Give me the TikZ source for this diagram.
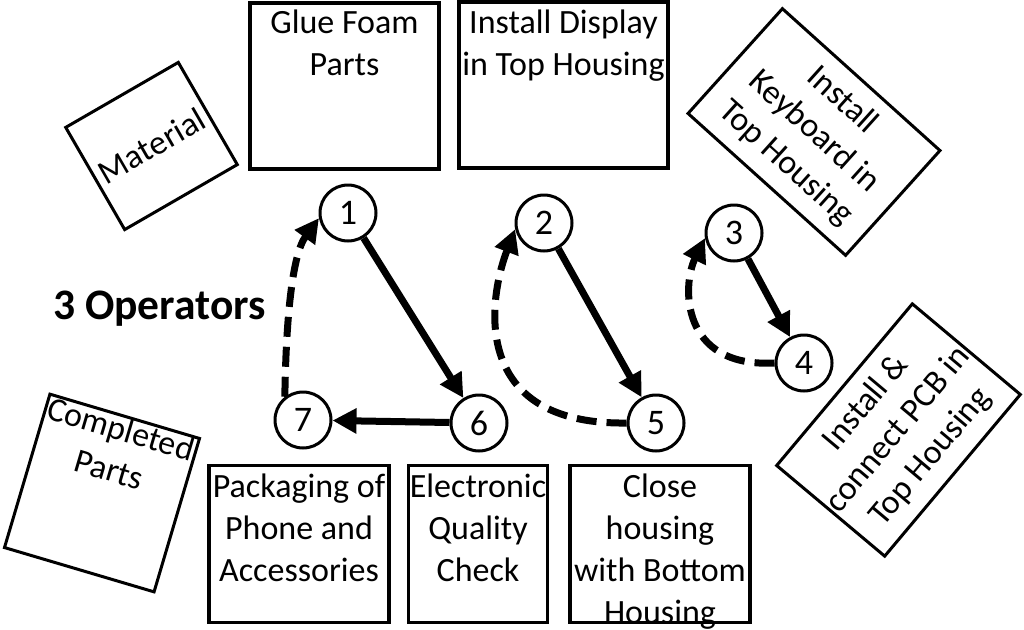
\documentclass[tikz,border=0pt]{standalone}
\usepackage{fontspec}
\setmainfont{Carlito}
\usetikzlibrary{arrows.meta}
\newcommand\fstrut{\rule{0pt}{26pt}}
\begin{document}
\begin{tikzpicture}[x=1pt,y=1pt,
 procbox/.style={draw, line width=3.5pt, inner sep=0pt},
 rotbox/.style={draw, line width=3pt, inner sep=0pt, align=center, font=\fontsize{34}{42}\selectfont},
 txt/.style={inner sep=0pt, align=center, font=\fontsize{34}{42}\selectfont},
 circ/.style={circle, draw, line width=3pt, minimum size=56pt, inner sep=0pt, font=\fontsize{36}{40}\selectfont},
 solidarr/.style={line width=7pt, -{Triangle[length=24pt,width=24pt]}},
 dasharr/.style={solidarr, dash pattern=on 20pt off 10pt}]
\useasboundingbox (0,0) rectangle (1024,-629);

% upper boxes
\node[procbox, minimum width=189pt, minimum height=166pt] (glue) at (344.5,-86) {};
\node[txt, anchor=north] (gluet) at (344.5,-7) {\fstrut Glue Foam\\Parts};
\node[procbox, minimum width=209pt, minimum height=166pt] (disp) at (563.5,-85) {};
\node[txt, anchor=north] (dispt) at (563.5,-7) {\fstrut Install Display\\in Top Housing};

% lower boxes
\node[procbox, minimum width=180pt, minimum height=157pt] (pack) at (299,-544) {};
\node[txt, anchor=north] (packt) at (299,-471) {\fstrut Packaging of\\Phone and\\Accessories};
\node[procbox, minimum width=139pt, minimum height=157pt] (elec) at (478,-544) {};
\node[txt, anchor=north] (elect) at (478,-471) {\fstrut Electronic\\Quality\\Check};
\node[procbox, minimum width=180pt, minimum height=157pt] (close) at (660,-544) {};
\node[txt, anchor=north] (closet) at (660,-471) {\fstrut Close\\housing\\with Bottom\\Housing};

% rotated boxes
\node[rotbox, rotate=30, minimum width=130pt, minimum height=118pt] (mat) at (151.5,-146) {Material};
\node[rotbox, rotate=-42, minimum width=212pt, minimum height=141pt] (kbd) at (814,-132) {Install\\Keyboard in\\Top Housing};
\node[rotbox, rotate=50, minimum width=211pt, minimum height=141pt] (pcb) at (898.5,-430) {Install \&\\connect PCB in\\Top Housing};
\node[rotbox, rotate=-16.5, minimum width=156pt, minimum height=160pt] (comp) at (102,-493) {};
\node[txt, rotate=-16.5, anchor=north] (compt) at (comp.north) {\fstrut Completed\\Parts};

% label
\node[inner sep=0pt, anchor=base west, font=\fontsize{43.5}{48}\selectfont\bfseries] (ops) at (53,-319) {3 Operators};

% circles
\node[circ] (n1) at (348,-213) {1};
\node[circ] (n2) at (544,-223) {2};
\node[circ] (n3) at (734,-233) {3};
\node[circ] (n4) at (804,-363) {4};
\node[circ] (n5) at (656,-423) {5};
\node[circ] (n6) at (479,-423) {6};
\node[circ] (n7) at (303,-420) {7};

% solid arrows
\draw[solidarr] (n1) -- (n6);
\draw[solidarr] (n6) -- (n7);
\draw[solidarr] (n2) -- (n5);
\draw[solidarr] (n3) -- (n4);

% dashed return arrows
\draw[dasharr] (n7.128) .. controls (286,-320) and (292,-255) .. (n1.190);
\draw[dasharr] (n5.180) .. controls (470,-425) and (488,-300) .. (n2.192);
\draw[dasharr] (n4.180) .. controls (680,-368) and (682,-285) .. (n3.190);
\end{tikzpicture}
\end{document}
